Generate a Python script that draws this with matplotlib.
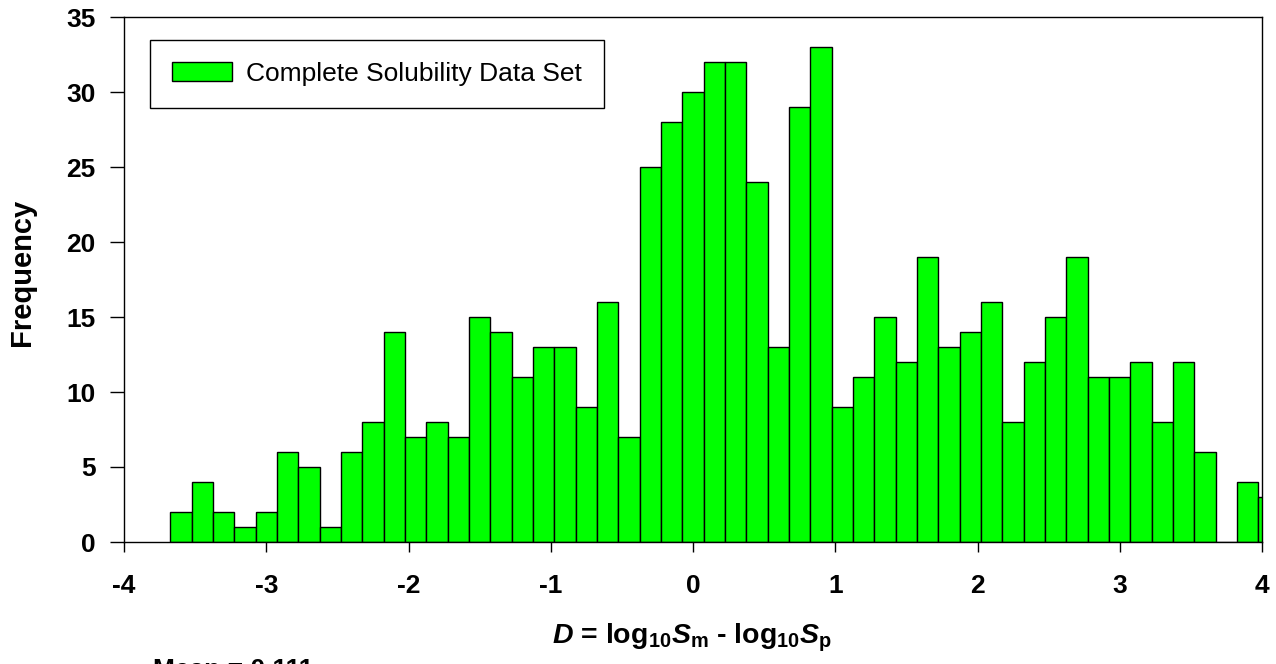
import numpy as np
import matplotlib
matplotlib.use('Agg')
import matplotlib.pyplot as plt

plt.rcParams['font.family'] = ['Liberation Sans', 'DejaVu Sans']
plt.rcParams['axes.unicode_minus'] = False
plt.rcParams['mathtext.fontset'] = 'custom'
plt.rcParams['mathtext.rm'] = 'Liberation Sans:bold'
plt.rcParams['mathtext.it'] = 'Liberation Sans:bold:italic'
plt.rcParams['mathtext.bf'] = 'Liberation Sans:bold'

# histogram counts, bins of width 0.15 centred on multiples of 0.15, first centre -3.6
bin_start = -3.6
bin_width = 0.15
counts = [2, 4, 2, 1, 2, 6, 5, 1, 6, 8,
          14, 7, 8, 7, 15, 14, 11, 13, 13, 9,
          16, 7, 25, 28, 30, 32, 32, 24, 13, 29,
          33, 9, 11, 15, 12, 19, 13, 14, 16, 8,
          12, 15, 19, 11, 11, 12, 8, 12, 6, 0,
          4, 3]
series_name = 'Complete Solubility Data Set'
mean_text = 'Mean = 0.111'
x_ticks = [-4, -3, -2, -1, 0, 1, 2, 3, 4]
y_ticks = [0, 5, 10, 15, 20, 25, 30, 35]

centers = bin_start + bin_width * np.arange(len(counts))

fig = plt.figure(figsize=(12.76, 6.64), dpi=100)
ax = fig.add_axes([124/1276, 122/664, 1138/1276, 525/664])

bars = ax.bar(centers, counts, width=bin_width, color='#00ff00',
              edgecolor='black', linewidth=1.0, label=series_name)

ax.set_xlim(-4, 4)
ax.set_ylim(0, 35)
ax.set_xticks(x_ticks)
ax.set_yticks(y_ticks)
ax.tick_params(direction='out', width=1, labelsize=19)
ax.tick_params(axis='x', length=7.2, pad=16)
ax.tick_params(axis='y', length=10, pad=10.5)
for lab in ax.get_xticklabels() + ax.get_yticklabels():
    lab.set_fontweight('bold')
for sp in ax.spines.values():
    sp.set_linewidth(1.0)
    sp.set_color('black')

# axis titles placed in figure coords
fig.text(22/1276, 392/664, 'Frequency', rotation=90, ha='center', va='center',
         fontsize=21, fontweight='bold')
fig.text(692/1276, 21/664, r'$D$ = log$_{10}$$S_{\mathrm{m}}$ - log$_{10}$$S_{\mathrm{p}}$',
         ha='center', va='baseline', fontsize=20.5, fontweight='bold')
fig.text(153/1276, 6/664, mean_text, ha='left', va='top',
         fontsize=19, fontweight='bold')

leg = ax.legend(loc='upper left', bbox_to_anchor=(150/1276, 624/664),
                bbox_transform=fig.transFigure, borderaxespad=0,
                fontsize=19, handlelength=2.27, handleheight=0.72,
                handletextpad=0.53, borderpad=0.83, fancybox=False,
                framealpha=1, edgecolor='black')
leg.get_frame().set_linewidth(1.0)

fig.savefig('out.png', dpi=100)
